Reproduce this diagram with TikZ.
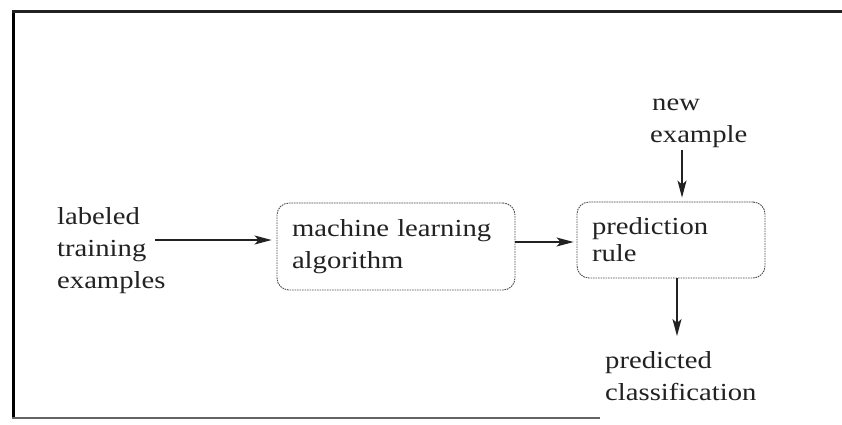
\documentclass[tikz,border=0pt]{standalone}
\usepackage{fontspec}
\setmainfont{Liberation Serif}[FakeStretch=1.17]
\usetikzlibrary{arrows.meta,calc}
\definecolor{ink}{HTML}{222222}
\definecolor{edge}{HTML}{4A4A4A}
\tikzset{
  px/.style={x=1pt,y=-1pt},
  lbl/.style={inner sep=0pt,align=left,text=ink,font=\fontsize{24.5}{32}\selectfont},
  procbox/.style={draw=edge,line width=0.9pt,dash pattern=on 1.6pt off 0.9pt,
    rounded corners=12pt,inner xsep=15pt,inner ysep=0pt,align=left,text=ink},
  arr/.style={draw=ink,line width=1.1pt,-{Stealth[length=17pt,width=9pt,inset=4pt]}},
}
\begin{document}
\begin{tikzpicture}[px]
\useasboundingbox (0,0) rectangle (842,424);
\fill[white] (0,0) rectangle (842,424);
% frame: left, top and bottom rules
\draw[line width=3pt,black] (13,10) -- (13,419);
\draw[line width=2.4pt,ink] (12,11.5) -- (842,11.5);
\draw[line width=2pt,ink!70] (12,418) -- (600,418);

% labels
\node[lbl,anchor=west] (lab) at (57,251) {labeled\\training\\examples};
\node[lbl,anchor=west] (new) at (650,123) {\hspace{2pt}new\\example};
\node[lbl,anchor=west] (out) at (605,376) {predicted\\classification};

% process boxes
\node[procbox,text width=208pt,minimum height=87pt,
  font=\fontsize{24.5}{32}\selectfont] (ml) at (396,246.5)
  {machine learning\\algorithm};
\node[procbox,text width=158pt,minimum height=76pt,
  font=\fontsize{24.5}{27}\selectfont] (pr) at (671,240)
  {prediction\\rule};

% connectors
\coordinate (a1) at (155,240);
\draw[arr,shorten >=5pt] (a1) -- (a1 -| ml.west);
\draw[arr,shorten >=3pt] (ml.east |- 0,242) -- (pr.west |- 0,242);
\coordinate (a2) at (682,150);
\draw[arr,shorten >=4pt] (a2) -- (a2 |- pr.north);
\coordinate (a3) at (677,336);
\draw[arr] (a3 |- pr.south) -- (a3);
\end{tikzpicture}
\end{document}
